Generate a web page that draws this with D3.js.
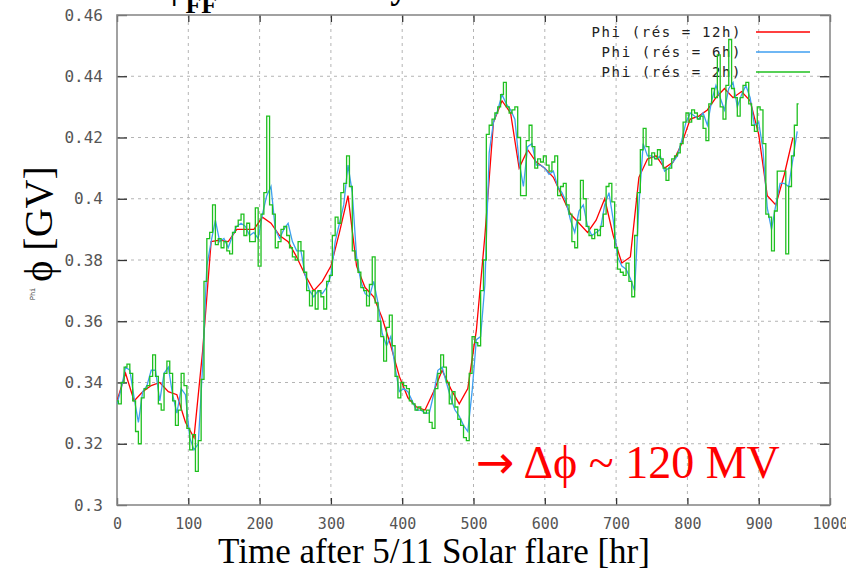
<!DOCTYPE html>
<html>
<head>
<meta charset="utf-8">
<script src="https://cdn.jsdelivr.net/npm/d3@7"></script>
<style>
  html, body { margin: 0; padding: 0; background: #fff; }
  svg { display: block; }
</style>
</head>
<body>
<div id="chart"></div>
<script>
// ---------- DATA ----------
const xTicks = [0, 100, 200, 300, 400, 500, 600, 700, 800, 900, 1000];
const xTickLabels = ["0", "100", "200", "300", "400", "500", "600", "700", "800", "900", "1000"];
const yTicks = [0.30, 0.32, 0.34, 0.36, 0.38, 0.40, 0.42, 0.44, 0.46];
const yTickLabels = ["0.3", "0.32", "0.34", "0.36", "0.38", "0.4", "0.42", "0.44", "0.46"];

const seriesNames = ["Phi (rés = 12h)", "Phi (rés = 6h)", "Phi (rés = 2h)"];
const seriesStepHours = [12, 6, 4];

// Phi, 12 h resolution (GV)
const phi12h = [
  0.334, 0.343, 0.334, 0.337, 0.339, 0.340, 0.337, 0.336, 0.327, 0.322,
  0.350, 0.386, 0.3865, 0.386, 0.390, 0.390, 0.390, 0.394, 0.392, 0.388,
  0.386, 0.381, 0.375, 0.370, 0.373, 0.378, 0.389, 0.401, 0.378, 0.371,
  0.368, 0.361, 0.352, 0.342, 0.335, 0.332, 0.331, 0.337, 0.344, 0.338,
  0.333, 0.338, 0.357, 0.388, 0.425, 0.432, 0.428, 0.410, 0.416, 0.412,
  0.410, 0.407, 0.401, 0.395, 0.392, 0.389, 0.393, 0.400, 0.388, 0.379,
  0.381, 0.407, 0.413, 0.414, 0.410, 0.412, 0.418, 0.426, 0.427, 0.429,
  0.433, 0.436, 0.433, 0.435, 0.432, 0.421, 0.401, 0.398, 0.408, 0.420
];

// Phi, 6 h resolution (GV)
const phi6h = [
  0.333, 0.338, 0.345, 0.344, 0.335, 0.327, 0.337, 0.339, 0.344, 0.344,
  0.334, 0.343, 0.345, 0.336, 0.330, 0.338, 0.336, 0.322, 0.318, 0.320,
  0.345, 0.378, 0.386, 0.393, 0.386, 0.387, 0.384, 0.388, 0.391, 0.392,
  0.391, 0.388, 0.389, 0.387, 0.395, 0.401, 0.404, 0.390, 0.387, 0.390,
  0.392, 0.386, 0.383, 0.383, 0.375, 0.370, 0.368, 0.370, 0.369, 0.371,
  0.375, 0.386, 0.392, 0.398, 0.411, 0.402, 0.381, 0.373, 0.369, 0.368,
  0.373, 0.366, 0.356, 0.352, 0.355, 0.345, 0.337, 0.338, 0.337, 0.334,
  0.331, 0.331, 0.330, 0.330, 0.336, 0.344, 0.345, 0.340, 0.335, 0.331,
  0.329, 0.326, 0.324, 0.337, 0.354, 0.355, 0.372, 0.415, 0.425, 0.429,
  0.434, 0.431, 0.429, 0.426, 0.412, 0.404, 0.417, 0.418, 0.411, 0.411,
  0.410, 0.408, 0.409, 0.404, 0.402, 0.399, 0.393, 0.389, 0.396, 0.398,
  0.391, 0.388, 0.389, 0.390, 0.398, 0.402, 0.393, 0.381, 0.378, 0.377,
  0.374, 0.370, 0.398, 0.418, 0.414, 0.414, 0.413, 0.414, 0.409, 0.410,
  0.412, 0.414, 0.419, 0.425, 0.428, 0.427, 0.426, 0.428, 0.424, 0.432,
  0.437, 0.433, 0.429, 0.436, 0.438, 0.430, 0.434, 0.437, 0.433, 0.424,
  0.425, 0.416, 0.397, 0.390, 0.398, 0.405, 0.405, 0.404, 0.413, 0.422
];

// Phi, 2 h resolution (GV), read every ~4 h
const phi2h = [
  0.334, 0.333, 0.340, 0.345, 0.346, 0.343, 0.334, 0.324, 0.320, 0.335,
  0.338, 0.339, 0.342, 0.349, 0.342, 0.333, 0.331, 0.343, 0.347, 0.343,
  0.334, 0.326, 0.331, 0.343, 0.339, 0.325, 0.318, 0.323, 0.311, 0.321,
  0.341, 0.373, 0.387, 0.389, 0.398, 0.385, 0.387, 0.384, 0.386, 0.383,
  0.382, 0.389, 0.391, 0.393, 0.395, 0.388, 0.392, 0.386, 0.386, 0.397,
  0.378, 0.395, 0.402, 0.427, 0.398, 0.395, 0.384, 0.386, 0.390, 0.391,
  0.388, 0.384, 0.381, 0.380, 0.386, 0.383, 0.376, 0.370, 0.365, 0.370,
  0.364, 0.370, 0.368, 0.364, 0.373, 0.375, 0.388, 0.394, 0.392, 0.402,
  0.405, 0.414, 0.404, 0.383, 0.380, 0.376, 0.371, 0.370, 0.365, 0.372,
  0.381, 0.366, 0.360, 0.355, 0.347, 0.358, 0.362, 0.352, 0.342, 0.335,
  0.340, 0.339, 0.338, 0.334, 0.333, 0.331, 0.332, 0.331, 0.330, 0.331,
  0.327, 0.325, 0.338, 0.343, 0.349, 0.345, 0.340, 0.333, 0.337, 0.332,
  0.328, 0.326, 0.322, 0.321, 0.343, 0.355, 0.353, 0.352, 0.370, 0.380,
  0.421, 0.424, 0.426, 0.428, 0.430, 0.434, 0.438, 0.430, 0.428, 0.429,
  0.430, 0.420, 0.401, 0.401, 0.419, 0.424, 0.417, 0.410, 0.413, 0.412,
  0.414, 0.411, 0.409, 0.412, 0.414, 0.401, 0.404, 0.405, 0.398, 0.395,
  0.386, 0.384, 0.393, 0.406, 0.400, 0.391, 0.388, 0.387, 0.390, 0.388,
  0.391, 0.395, 0.404, 0.405, 0.399, 0.384, 0.377, 0.376, 0.375, 0.379,
  0.373, 0.368, 0.388, 0.402, 0.416, 0.423, 0.417, 0.411, 0.415, 0.413,
  0.416, 0.413, 0.410, 0.406, 0.410, 0.413, 0.414, 0.415, 0.418, 0.425,
  0.428, 0.425, 0.429, 0.428, 0.426, 0.427, 0.423, 0.419, 0.431, 0.436,
  0.433, 0.447, 0.430, 0.426, 0.437, 0.452, 0.436, 0.433, 0.427, 0.433,
  0.437, 0.438, 0.431, 0.424, 0.422, 0.430, 0.429, 0.418, 0.395, 0.394,
  0.383, 0.396, 0.409, 0.409, 0.409, 0.382, 0.404, 0.414, 0.424, 0.431
];

const seriesValues = [phi12h, phi6h, phi2h];
const seriesColors = ["#ff0000", "#3f9ff0", "#1fc01f"];
const seriesCurves = [d3.curveLinear, d3.curveLinear, d3.curveStep];

// ---------- CHART ----------
const W = 846, H = 572;
const margin = { left: 117, right: 16, top: 15, bottom: 67 };
const serif = "'Liberation Serif', 'Times New Roman', serif";
const tickFont = "'DejaVu Sans Mono', monospace";

const svg = d3.select("#chart").append("svg")
  .attr("width", W).attr("height", H);

const x = d3.scaleLinear().domain([0, 1000]).range([margin.left, W - margin.right]);
const y = d3.scaleLinear().domain([0.30, 0.46]).range([H - margin.bottom, margin.top]);

// grid
const grid = svg.append("g").attr("stroke", "#b4b4b4").attr("stroke-width", 1)
  .attr("stroke-dasharray", "3,4");
grid.selectAll("line.gx").data(xTicks.slice(1, -1)).enter().append("line")
  .attr("x1", d => x(d)).attr("x2", d => x(d))
  .attr("y1", y(0.46)).attr("y2", y(0.30));
grid.selectAll("line.gy").data(yTicks.slice(1, -1)).enter().append("line")
  .attr("y1", d => y(d)).attr("y2", d => y(d))
  .attr("x1", x(0)).attr("x2", x(1000));

// axes with inward ticks (mirrored)
const xAxis = svg.append("g").attr("transform", `translate(0,${y(0.30)})`)
  .call(d3.axisBottom(x).tickValues(xTicks).tickSizeInner(-7).tickSizeOuter(0)
    .tickPadding(13).tickFormat((d, i) => xTickLabels[i]));
const xAxisTop = svg.append("g").attr("transform", `translate(0,${y(0.46)})`)
  .call(d3.axisTop(x).tickValues(xTicks).tickSizeInner(-7).tickSizeOuter(0).tickFormat(""));
const yAxis = svg.append("g").attr("transform", `translate(${x(0)},0)`)
  .call(d3.axisLeft(y).tickValues(yTicks).tickSizeInner(-10).tickSizeOuter(0)
    .tickPadding(14).tickFormat((d, i) => yTickLabels[i]));
const yAxisRight = svg.append("g").attr("transform", `translate(${x(1000)},0)`)
  .call(d3.axisRight(y).tickValues(yTicks).tickSizeInner(-10).tickSizeOuter(0).tickFormat(""));

[xAxis, xAxisTop, yAxis, yAxisRight].forEach(g => {
  g.select(".domain").remove();
  g.selectAll(".tick line").attr("stroke", "#333").attr("stroke-width", 1.3);
  g.selectAll(".tick text").attr("fill", "#555").attr("font-family", tickFont)
    .attr("font-size", 16);
});
xAxis.selectAll(".tick text").attr("font-size", 15);

// frame
svg.append("rect")
  .attr("x", x(0)).attr("y", y(0.46))
  .attr("width", x(1000) - x(0)).attr("height", y(0.30) - y(0.46))
  .attr("fill", "none").attr("stroke", "#8a8a8a").attr("stroke-width", 1.6);

// legend (drawn below lines, as in the reference)
const legend = svg.append("g");
seriesNames.forEach((name, i) => {
  const ly = 32 + i * 20;
  legend.append("text")
    .attr("x", 742).attr("y", ly).attr("dy", "0.35em")
    .attr("text-anchor", "end")
    .attr("font-family", tickFont).attr("font-size", 14)
    .attr("letter-spacing", 1.6)
    .attr("fill", "#222").text(name);
  legend.append("line")
    .attr("x1", 756).attr("x2", 810).attr("y1", ly).attr("y2", ly)
    .attr("stroke", seriesColors[i]).attr("stroke-width", 1.4);
});

// series
svg.append("clipPath").attr("id", "plotClip").append("rect")
  .attr("x", x(0)).attr("y", y(0.46))
  .attr("width", x(1000) - x(0)).attr("height", y(0.30) - y(0.46));

seriesValues.forEach((vals, i) => {
  const pts = vals.map((v, k) => [k * seriesStepHours[i], v]);
  const line = d3.line().curve(seriesCurves[i])
    .x(d => x(d[0])).y(d => y(d[1]));
  svg.append("path")
    .datum(pts)
    .attr("clip-path", "url(#plotClip)")
    .attr("fill", "none")
    .attr("stroke", seriesColors[i])
    .attr("stroke-width", 1.3)
    .attr("d", line);
});

// partial title cut off at the top edge
const title = svg.append("text")
  .attr("x", 163).attr("y", -2)
  .attr("font-family", serif)
  .attr("font-weight", "bold").attr("font-size", 36).attr("fill", "#000");
title.append("tspan").text("ϕ");
title.append("tspan").attr("font-size", 26).attr("dy", 15).text("FF");
title.append("tspan").attr("dy", -15).attr("dx", 22).text(" variability");

// y-axis titles
svg.append("text")
  .attr("transform", "translate(52,224) rotate(-90)")
  .attr("text-anchor", "middle")
  .attr("font-family", serif)
  .attr("font-size", 40).attr("fill", "#000")
  .text("ϕ [GV]");
svg.append("text")
  .attr("transform", "translate(35,294) rotate(-90)")
  .attr("text-anchor", "middle")
  .attr("font-family", tickFont)
  .attr("font-size", 7).attr("fill", "#444")
  .text("Phi");

// x-axis title
svg.append("text")
  .attr("x", 434).attr("y", 563)
  .attr("text-anchor", "middle")
  .attr("font-family", serif)
  .attr("font-size", 35).attr("fill", "#000")
  .text("Time after 5/11 Solar flare [hr]");

// annotation
const ann = svg.append("text")
  .attr("x", 476).attr("y", 478)
  .attr("font-family", serif)
  .attr("font-size", 46).attr("fill", "#ff0000");
ann.append("tspan").attr("font-family", "'DejaVu Sans', sans-serif")
  .attr("font-size", 46).attr("font-weight", "normal").text("→");
ann.append("tspan").text(" Δϕ ~ 120 MV");
</script>
</body>
</html>
